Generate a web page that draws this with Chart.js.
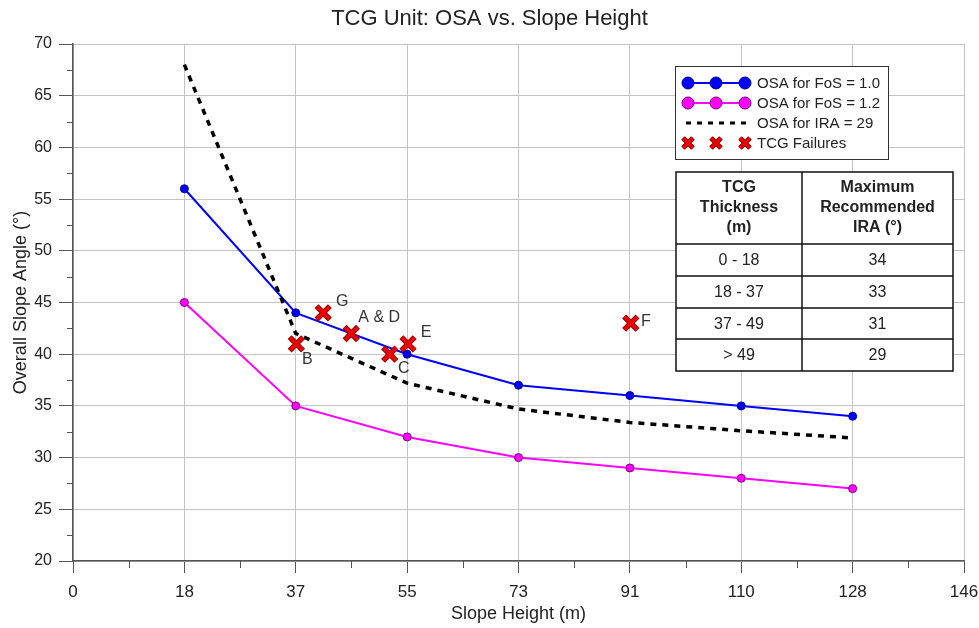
<!DOCTYPE html>
<html>
<head>
<meta charset="utf-8">
<script src="https://cdn.jsdelivr.net/npm/chart.js@4/dist/chart.umd.min.js"></script>
<style>
  html, body { margin: 0; padding: 0; background: #fff; }
  #wrap { width: 979px; height: 628px; position: relative; }
</style>
</head>
<body>
<div id="wrap"><canvas id="chart"></canvas></div>
<script>
// slope heights (m) for the design curves
const heights = [18.25, 36.5, 54.75, 73, 91.25, 109.5, 127.75];
const osaFos10 = [56, 44, 40, 37, 36, 35, 34];
const osaFos12 = [45, 35, 32, 30, 29, 28, 27];
const osaIra29 = [68, 42, 37.2, 34.7, 33.4, 32.6, 31.9];

// observed TCG failures
const failureHeights = [36.6, 41.0, 45.6, 51.9, 54.9, 91.4];
const failureAngles = [41, 44, 42, 40, 41, 43];
const failureNames = ["B", "G", "A & D", "C", "E", "F"];

const xTickLabels = ["0", "18", "37", "55", "73", "91", "110", "128", "146"];

// inset table
const thicknessRanges = ["0 - 18", "18 - 37", "37 - 49", "> 49"];
const maxIra = ["34", "33", "31", "29"];

const FONT = "'Liberation Sans', Arial, sans-serif";
const TEXT = "#222";

const toXY = (xs, ys) => xs.map((x, i) => ({ x, y: ys[i] }));

// label offsets next to each failure cross (px)
const failureLabelOffsets = [[11, 16, "center"], [19, -11, "center"], [7, -16, "left"], [14, 14, "center"], [18, -11, "center"], [15, -2, "center"]];

const minorTicks = {
  id: "minorTicks",
  afterDraw(chart) {
    const { ctx } = chart;
    const xs = chart.scales.x;
    const ys = chart.scales.y;
    ctx.save();
    ctx.strokeStyle = "#555";
    ctx.lineWidth = 1;
    ctx.beginPath();
    for (let i = 0; i < xs.ticks.length - 1; i++) {
      const px = Math.round(xs.getPixelForValue((xs.ticks[i].value + xs.ticks[i + 1].value) / 2)) + 0.5;
      ctx.moveTo(px, xs.top);
      ctx.lineTo(px, xs.top + 7);
    }
    for (let i = 0; i < ys.ticks.length - 1; i++) {
      const py = Math.round(ys.getPixelForValue((ys.ticks[i].value + ys.ticks[i + 1].value) / 2)) + 0.5;
      ctx.moveTo(ys.right, py);
      ctx.lineTo(ys.right - 6, py);
    }
    ctx.stroke();
    ctx.restore();
  },
};

const extras = {
  id: "extras",
  afterDraw(chart) {
    const { ctx } = chart;
    const xs = chart.scales.x;
    const ys = chart.scales.y;
    ctx.save();

    // title
    ctx.fillStyle = TEXT;
    ctx.font = "22px " + FONT;
    ctx.textAlign = "center";
    ctx.textBaseline = "middle";
    ctx.fillText("TCG Unit: OSA vs. Slope Height", chart.width / 2, 19);

    // failure letters
    ctx.font = "16px " + FONT;
    ctx.fillStyle = "#333";
    failureNames.forEach((name, i) => {
      const [dx, dy, align] = failureLabelOffsets[i];
      ctx.textAlign = align;
      ctx.fillText(name, xs.getPixelForValue(failureHeights[i]) + dx, ys.getPixelForValue(failureAngles[i]) + dy);
    });

    // legend
    const ds = chart.data.datasets;
    const lx = 675, ly = 66, lw = 213, lh = 93;
    ctx.fillStyle = "#fff";
    ctx.fillRect(lx, ly, lw, lh);
    ctx.strokeStyle = "#333";
    ctx.lineWidth = 1;
    ctx.strokeRect(lx + 0.5, ly + 0.5, lw, lh);
    const sx = [688, 716, 745];
    ctx.font = "15px " + FONT;
    ctx.textAlign = "left";
    [ds[0], ds[1], ds[2], ds[4]].forEach((d, i) => {
      const y = ly + 17 + i * 20;
      if (i < 2) {
        ctx.strokeStyle = d.borderColor;
        ctx.lineWidth = 2;
        ctx.beginPath();
        ctx.moveTo(sx[0], y);
        ctx.lineTo(sx[2], y);
        ctx.stroke();
        sx.forEach((x) => {
          ctx.beginPath();
          ctx.arc(x, y, 6, 0, Math.PI * 2);
          ctx.fillStyle = d.pointBackgroundColor;
          ctx.fill();
          ctx.strokeStyle = d.pointBorderColor;
          ctx.lineWidth = 1;
          ctx.stroke();
        });
      } else if (i === 2) {
        ctx.strokeStyle = d.borderColor;
        ctx.lineWidth = 3;
        ctx.setLineDash([5, 6]);
        ctx.beginPath();
        ctx.moveTo(sx[0] - 2, y);
        ctx.lineTo(sx[2] + 3, y);
        ctx.stroke();
        ctx.setLineDash([]);
      } else {
        [["#8b0000", 5], ["#ee0000", 3]].forEach(([c, w]) => {
          ctx.strokeStyle = c;
          ctx.lineWidth = w;
          sx.forEach((x) => {
            ctx.beginPath();
            ctx.moveTo(x - 5, y - 5);
            ctx.lineTo(x + 5, y + 5);
            ctx.moveTo(x + 5, y - 5);
            ctx.lineTo(x - 5, y + 5);
            ctx.stroke();
          });
        });
      }
      ctx.fillStyle = TEXT;
      ctx.fillText(d.label, 757, y + 1);
    });

    // table
    const tx = 676, tRight = 953, tMid = 802, tTop = 172;
    const rowsY = [244, 276, 308, 339, 371];
    ctx.fillStyle = "#fff";
    ctx.fillRect(tx, tTop, tRight - tx, rowsY[4] - tTop);
    ctx.strokeStyle = "#111";
    ctx.lineWidth = 1.5;
    ctx.strokeRect(tx, tTop, tRight - tx, rowsY[4] - tTop);
    ctx.beginPath();
    ctx.moveTo(tMid, tTop);
    ctx.lineTo(tMid, rowsY[4]);
    rowsY.slice(0, 4).forEach((ry) => {
      ctx.moveTo(tx, ry);
      ctx.lineTo(tRight, ry);
    });
    ctx.stroke();
    ctx.fillStyle = TEXT;
    ctx.textAlign = "center";
    ctx.font = "bold 16px " + FONT;
    ["TCG", "Thickness", "(m)"].forEach((t, i) => ctx.fillText(t, (tx + tMid) / 2, 188 + i * 20));
    ["Maximum", "Recommended", "IRA (°)"].forEach((t, i) => ctx.fillText(t, (tMid + tRight) / 2, 188 + i * 20));
    ctx.font = "16px " + FONT;
    thicknessRanges.forEach((t, i) => {
      const cy = (rowsY[i] + rowsY[i + 1]) / 2 + 1;
      ctx.fillText(t, (tx + tMid) / 2, cy);
      ctx.fillText(maxIra[i], (tMid + tRight) / 2, cy);
    });

    ctx.restore();
  },
};

new Chart(document.getElementById("chart"), {
  type: "line",
  data: {
    datasets: [
      {
        label: "OSA for FoS = 1.0",
        data: toXY(heights, osaFos10),
        borderColor: "#0000ff",
        borderWidth: 2,
        pointRadius: 4,
        pointBackgroundColor: "#0000ff",
        pointBorderColor: "#00008b",
        pointBorderWidth: 1,
        order: 2,
      },
      {
        label: "OSA for FoS = 1.2",
        data: toXY(heights, osaFos12),
        borderColor: "#ff00ff",
        borderWidth: 2,
        pointRadius: 4,
        pointBackgroundColor: "#ff00ff",
        pointBorderColor: "#800080",
        pointBorderWidth: 1,
        order: 3,
      },
      {
        label: "OSA for IRA = 29",
        data: toXY(heights, osaIra29),
        borderColor: "#000",
        borderWidth: 3.5,
        borderDash: [6, 6],
        pointRadius: 0,
        order: 1,
      },
      {
        // dark outline under the red crosses
        label: "TCG Failures outline",
        data: toXY(failureHeights, failureAngles),
        showLine: false,
        pointStyle: "crossRot",
        pointRadius: 9.5,
        pointBorderWidth: 5.5,
        borderColor: "#8b0000",
        order: 0.5,
      },
      {
        label: "TCG Failures",
        data: toXY(failureHeights, failureAngles),
        showLine: false,
        pointStyle: "crossRot",
        pointRadius: 9,
        pointBorderWidth: 3.5,
        borderColor: "#ee0000",
        order: 0,
      },
    ],
  },
  options: {
    responsive: true,
    maintainAspectRatio: false,
    animation: false,
    layout: { padding: { top: 44, right: 0, left: 0, bottom: 0 } },
    plugins: {
      legend: { display: false },
      tooltip: { enabled: false },
    },
    scales: {
      x: {
        type: "linear",
        min: 0,
        max: 146,
        afterFit: (scale) => {
          scale.height = 67;
          scale.paddingRight = 14;
          scale.paddingLeft = 0;
        },
        ticks: {
          stepSize: 18.25,
          color: TEXT,
          font: { family: FONT, size: 17 },
          padding: 9,
          maxRotation: 0,
          callback: (v, i) => xTickLabels[i],
        },
        grid: { color: "#c4c4c4", lineWidth: 1, tickLength: 12, tickColor: "#555" },
        border: { color: "#555", width: 1.5 },
        title: {
          display: true,
          text: "Slope Height (m)",
          color: TEXT,
          font: { family: FONT, size: 18 },
          padding: { top: 0, bottom: 3 },
        },
      },
      y: {
        min: 20,
        max: 70,
        afterFit: (scale) => { scale.width = 73; },
        ticks: {
          stepSize: 5,
          color: TEXT,
          font: { family: FONT, size: 16 },
          padding: 7,
        },
        grid: { color: "#c4c4c4", lineWidth: 1, tickLength: 14, tickColor: "#555" },
        border: { color: "#555", width: 1.5 },
        title: {
          display: true,
          text: "Overall Slope Angle (°)",
          color: TEXT,
          font: { family: FONT, size: 18 },
          padding: { top: 10, bottom: 0 },
        },
      },
    },
  },
  plugins: [minorTicks, extras],
});
</script>
</body>
</html>
